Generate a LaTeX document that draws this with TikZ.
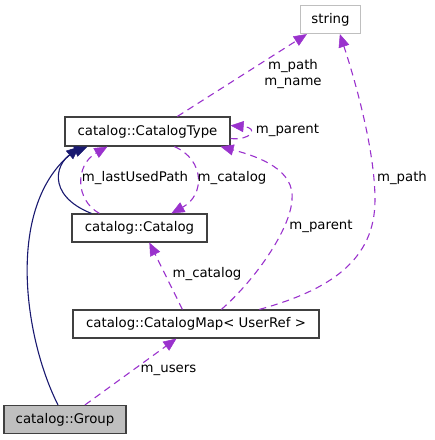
\documentclass[tikz,border=0pt]{standalone}
\usepackage{fontspec}
\setmainfont{DejaVu Sans}
\usetikzlibrary{arrows.meta}
\definecolor{usecol}{HTML}{9A32CD}
\definecolor{inhcol}{HTML}{191970}
\definecolor{boxcol}{HTML}{404040}
\definecolor{graycol}{HTML}{BFBFBF}
\begin{document}
\begin{tikzpicture}[x=1pt,y=-1pt,
  font=\fontsize{13.3}{16}\selectfont,
  cls/.style={draw=boxcol,line width=1.2pt,fill=white,inner sep=0pt,minimum height=28pt},
  ext/.style={draw=graycol,line width=1.2pt,fill=white,inner sep=0pt,minimum height=28pt},
  usage/.style={draw=usecol,line width=1.1pt,dash pattern=on 7pt off 5pt,-{Triangle[length=13pt,width=11pt,fill=usecol,line width=0.5pt]}},
  inh/.style={draw=inhcol,line width=1.1pt,-{Triangle[length=13pt,width=11pt,fill=inhcol,line width=0.5pt]}},
  lbl/.style={inner sep=0pt,align=center}]
\useasboundingbox (0,0) rectangle (435,440);
\node[ext,minimum width=60pt] (str) at (330.5,19.5) {string};
\node[cls,minimum width=165pt,minimum height=29pt] (ct) at (147.5,131.5) {catalog::CatalogType};
\node[cls,minimum width=135pt] (cat) at (139.5,228) {catalog::Catalog};
\node[cls,minimum width=246pt] (cm) at (196,324) {catalog::CatalogMap< UserRef >};
\node[cls,fill=graycol,minimum width=122pt] (grp) at (65,419.5) {catalog::Group};

% inheritance
\draw[inh] ([xshift=-7pt]grp.north) .. controls (25,340) and (5,210) .. ([xshift=15pt]ct.south west);
\draw[inh] ([xshift=20pt]cat.north west) .. controls (45,195) and (55,160) .. ([xshift=23pt]ct.south west);

% usage
\draw[usage] ([xshift=28pt]cat.north west) .. controls (75,200) and (75,165) .. ([xshift=43pt]ct.south west);
\draw[usage] ([xshift=110pt]ct.south west) .. controls (205,160) and (205,195) .. ([xshift=100pt]cat.north west);
\draw[usage] ([yshift=-7pt]ct.east) .. controls (250,141) and (260,128) .. ([yshift=6pt]ct.east);
\draw[usage] ([xshift=113pt]ct.north west) -- ([xshift=7pt]str.south west);
\draw[usage] ([xshift=110pt]cm.north west) -- ([xshift=78pt]cat.south west);
\draw[usage] ([xshift=149pt]cm.north west) .. controls (255,280) and (290,230) .. (292,200) .. controls (295,170) and (260,157) .. ([xshift=-10pt]ct.south east);
\draw[usage] ([xshift=187pt]cm.north west) .. controls (330,290) and (375,260) .. (375,200) .. controls (375,150) and (355,80) .. ([xshift=40pt]str.south west);
\draw[usage] ([xshift=20pt]grp.north) -- ([xshift=104pt]cm.south west);

% labels
\node[lbl] (l1) at (293,74) {m\_path\\m\_name};
\node[lbl] (l2) at (287.5,130) {m\_parent};
\node[lbl] (l3) at (135,178) {m\_lastUsedPath};
\node[lbl] (l4) at (232,178) {m\_catalog};
\node[lbl] (l5) at (207,274) {m\_catalog};
\node[lbl] (l6) at (321,226) {m\_parent};
\node[lbl] (l7) at (402,178) {m\_path};
\node[lbl] (l8) at (168.5,370) {m\_users};
\end{tikzpicture}
\end{document}
